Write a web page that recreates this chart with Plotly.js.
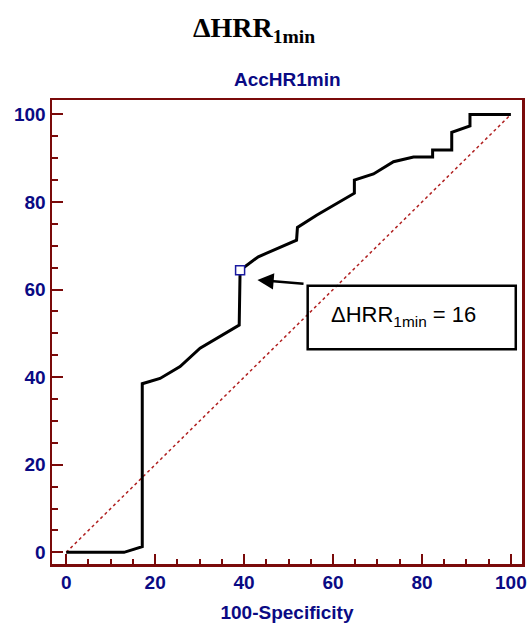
<!DOCTYPE html>
<html>
<head>
<meta charset="utf-8">
<script src="https://cdn.plot.ly/plotly-3.0.1.min.js"></script>
<style>html,body{margin:0;padding:0;background:#fff;}#chart{width:528px;height:623px;}</style>
</head>
<body>
<div id="chart"></div>
<script>
// ROC curve points (100-Specificity, Sensitivity)
var rocX = [0, 13, 17.1, 17.1, 21.1, 25.6, 30.1, 38.9, 39.1, 43.2, 51.8, 52, 56.3, 64.8, 64.8, 69.1, 73.6, 78.1, 82.4, 82.4, 86.7, 86.7, 90.8, 90.8, 100];
var rocY = [0, 0, 1.3, 38.5, 39.7, 42.4, 46.6, 51.9, 64.4, 67.5, 71.3, 74.2, 77.0, 82.0, 85.0, 86.4, 89.2, 90.3, 90.3, 91.9, 91.9, 95.9, 97.4, 100, 100];
// reference diagonal
var diagX = [0, 100];
var diagY = [0, 100];
// optimal cut-off point
var cutX = [39.1];
var cutY = [64.4];
var cutLabel = 'ΔHRR<sub>1min</sub> = 16';
var tickVals = [0, 20, 40, 60, 80, 100];

var navy = '#0a0a84';
var maroon = '#7a0a0a';

var traces = [
  {x: diagX, y: diagY, mode: 'lines', line: {color: '#b02020', width: 1.5, dash: 'dot'}, hoverinfo: 'skip'},
  {x: rocX, y: rocY, mode: 'lines', line: {color: '#000000', width: 3}},
  {x: cutX, y: cutY, mode: 'markers', marker: {symbol: 'square', size: 9, color: '#ffffff', line: {width: 1.5, color: '#1a1aa0'}}}
];

var tickFont = {family: 'Liberation Sans, Arial, sans-serif', size: 19, color: navy, weight: 'bold'};

var layout = {
  width: 528, height: 623,
  margin: {l: 52, r: 6, t: 100, b: 59},
  paper_bgcolor: '#ffffff', plot_bgcolor: '#ffffff',
  showlegend: false,
  title: {
    text: '<b>ΔHRR<sub>1min</sub></b>',
    font: {family: 'Liberation Serif, Times New Roman, serif', size: 28, color: '#000000'},
    x: 254 / 528, xanchor: 'center', xref: 'container',
    y: 1 - 27 / 623, yanchor: 'middle', yref: 'container'
  },
  xaxis: {
    range: [-3.2, 102.5], tickvals: tickVals, ticks: 'inside', ticklen: 10, tickwidth: 2, tickcolor: maroon,
    minor: {dtick: 5, ticks: 'inside', ticklen: 5, tickwidth: 2, tickcolor: maroon},
    showline: true, linecolor: maroon, linewidth: 2.5, mirror: true,
    showgrid: false, zeroline: false, tickfont: tickFont,
    title: {text: '100-Specificity', font: {family: 'Liberation Sans, Arial, sans-serif', size: 19, color: navy, weight: 'bold'}, standoff: 14}
  },
  yaxis: {
    range: [-2.67, 103.3], tickvals: tickVals, ticks: 'inside', ticklen: 11, tickwidth: 2, tickcolor: maroon,
    minor: {dtick: 5, ticks: 'inside', ticklen: 6, tickwidth: 2, tickcolor: maroon},
    showline: true, linecolor: maroon, linewidth: 2.5, mirror: true,
    showgrid: false, zeroline: false, tickfont: tickFont
  },
  shapes: [
    {type: 'rect', xref: 'x', yref: 'y', x0: 54.3, x1: 101.1, y0: 46.4, y1: 60.9, line: {color: '#000000', width: 2.5}, fillcolor: 'rgba(0,0,0,0)'}
  ],
  annotations: [
    {xref: 'paper', yref: 'paper', x: 0.5, y: 1 + 20 / 464, xanchor: 'center', yanchor: 'middle', showarrow: false,
     text: 'AccHR1min', font: {family: 'Liberation Sans, Arial, sans-serif', size: 19, color: navy, weight: 'bold'}},
    {xref: 'x', yref: 'y', x: 75.8, y: 54.0, xanchor: 'center', yanchor: 'middle', showarrow: false,
     text: cutLabel, font: {family: 'Liberation Sans, Arial, sans-serif', size: 22, color: '#000000'}},
    {xref: 'x', yref: 'y', x: 43.0, y: 62.2, axref: 'x', ayref: 'y', ax: 53.7, ay: 61.3, text: '', showarrow: true,
     arrowhead: 2, arrowsize: 1.3, arrowwidth: 2.5, arrowcolor: '#000000', standoff: 0, startstandoff: 0}
  ]
};

Plotly.newPlot('chart', traces, layout, {displayModeBar: false, staticPlot: true});
</script>
</body>
</html>
